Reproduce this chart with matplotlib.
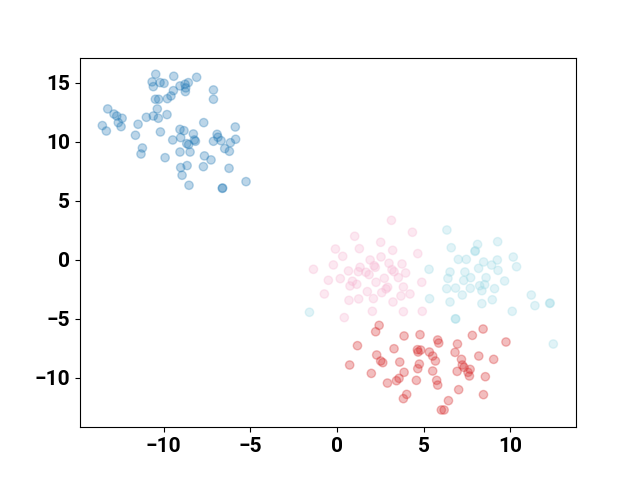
import matplotlib
matplotlib.use("Agg")
import matplotlib.pyplot as plt
import numpy as np

plt.rcParams['font.family'] = ['Roboto', 'DejaVu Sans']

# cluster 0 (blue)
x0 = [-10.46, -9.42, -8.10, -10.67, -10.21, -9.98, -10.6, -9.06, -8.77, -8.58,
      -8.73, -8.75, -9.44, -7.13, -7.13, -9.58, -9.79, -10.48, -10.29, -13.23,
      -12.87, -12.71, -12.4, -12.62, -12.46, -13.54, -13.31, -11.48, -11.0, -10.6,
      -10.37, -10.31, -9.81, -11.63, -10.19, -9.06, -8.83, -8.29, -7.69, -9.48,
      -9.02, -8.67, -8.56, -8.23, -8.17, -6.92, -6.87, -7.13, -6.69, -5.87,
      -5.85, -6.15, -6.48, -6.21, -11.23, -11.31, -9.92, -9.06, -8.48, -7.65,
      -7.27, -9.02, -8.65, -7.71, -8.94, -6.23, -8.54, -6.62, -6.6, -5.25]
y0 = [15.74, 15.57, 15.48, 15.09, 15.03, 14.97, 14.69, 14.75, 14.89, 15.03,
      14.58, 14.27, 14.35, 14.41, 13.62, 13.9, 13.67, 13.62, 13.62, 12.8,
      12.37, 12.2, 12.01, 11.64, 11.3, 11.39, 10.93, 11.5, 12.09, 12.2,
      12.8, 12.01, 12.32, 10.57, 10.85, 11.07, 10.96, 10.68, 11.64, 10.17,
      10.37, 9.86, 9.78, 10.17, 10.06, 10.65, 10.4, 10.06, 10.11, 11.27,
      10.23, 9.94, 9.44, 9.21, 9.49, 8.98, 8.67, 9.15, 9.15, 8.82,
      8.48, 7.83, 8.0, 7.91, 7.18, 7.77, 6.33, 6.07, 6.1, 6.64]

# cluster 1 (red)
x1 = [2.43, 2.23, 1.18, 0.73, 2.29, 2.52, 2.64, 1.98, 3.29, 3.87,
      4.79, 3.62, 3.87, 3.58, 3.43, 2.91, 4.02, 3.83, 4.64, 4.68,
      4.83, 5.33, 5.52, 5.68, 4.75, 4.66, 4.58, 5.52, 5.75, 5.81,
      5.81, 5.87, 6.95, 6.81, 7.18, 7.23, 7.33, 6.93, 7.56, 7.64,
      7.68, 7.02, 6.43, 6.02, 6.18, 7.81, 8.43, 8.18, 8.56, 9.04,
      8.45, 9.75]
y1 = [-5.54, -6.08, -7.26, -8.9, -8.05, -8.56, -8.7, -9.61, -7.52, -6.44,
      -6.33, -8.65, -9.52, -10.03, -10.23, -10.43, -11.39, -11.75, -7.6, -7.8,
      -7.63, -7.8, -8.14, -8.56, -8.82, -9.21, -10.2, -9.41, -10.2, -10.6,
      -6.78, -7.04, -7.12, -7.83, -8.42, -8.9, -9.1, -9.44, -9.52, -9.83,
      -9.27, -10.99, -11.92, -12.71, -12.71, -6.39, -5.85, -8.14, -9.89, -8.42,
      -11.41, -6.95]

# cluster 2 (pink)
x2 = [3.14, 1.02, 4.35, -0.09, 1.29, 2.52, 3.21, 4.66, 0.33, 2.54,
      1.91, -1.36, -0.21, 2.14, 1.33, 2.21, 3.0, 3.75, 0.66, 1.23,
      1.67, 1.85, 3.17, 3.29, 3.96, -0.5, 0.19, 0.89, 0.75, 1.14,
      2.25, 2.73, 3.54, 4.89, -0.73, 1.75, 2.58, 2.83, 2.92, 3.83,
      4.21, 3.69, 0.69, 1.25, 2.1, 3.23, 2.04, 3.83, 4.92, 0.42]
y2 = [3.36, 2.01, 2.35, 0.93, 0.96, 1.5, 0.82, 0.54, 0.31, 0.26,
      0.0, -0.79, -0.42, -0.48, -0.62, -0.62, -0.28, -0.34, -0.93, -0.99,
      -1.04, -1.24, -0.82, -0.99, -1.1, -1.72, -1.58, -1.8, -2.2, -2.06,
      -1.89, -1.55, -1.49, -1.89, -2.88, -2.68, -2.77, -2.45, -2.31, -2.29,
      -2.88, -3.05, -3.42, -3.3, -3.27, -3.56, -4.35, -4.38, -4.35, -4.88]

# cluster 3 (cyan)
x3 = [6.34, 6.59, 8.11, 7.96, 7.98, 9.27, 7.0, 7.46, 8.46, 9.25,
      10.17, 10.36, 8.92, 5.31, 6.52, 7.38, 8.17, 9.29, 6.4, 7.31,
      7.71, 8.6, 9.67, 6.33, 6.84, 7.69, 8.23, 8.52, 8.36, 9.09,
      7.23, 5.34, 6.52, 8.36, 8.96, 10.11, 11.21, 11.42, 12.27, 12.3,
      6.83, 6.85, 12.48, -1.59]
y3 = [2.54, 1.04, 1.32, 0.73, 0.78, 1.55, 0.05, 0.05, -0.17, 0.0,
      0.25, -0.57, -0.43, -0.79, -1.02, -1.02, -0.71, -0.88, -1.56, -1.73,
      -1.5, -1.5, -1.78, -2.43, -2.38, -2.4, -2.18, -2.09, -2.6, -2.43,
      -2.97, -3.28, -3.56, -3.7, -3.37, -4.35, -2.97, -3.87, -3.68, -3.65,
      -4.98, -5.0, -7.12, -4.43]

xs = np.concatenate([x0, x1, x2, x3])
ys = np.concatenate([y0, y1, y2, y3])
labels = np.concatenate([np.full(len(x0), 0), np.full(len(x1), 1),
                         np.full(len(x2), 2), np.full(len(x3), 3)])

fig = plt.figure(figsize=(6.4, 4.8), dpi=100)
ax = fig.add_subplot(111)
ax.scatter(xs, ys, c=labels, cmap='tab20', alpha=0.3)
ax.set_xlim(-14.83, 13.79)
ax.set_ylim(-14.17, 17.15)
ax.set_xticks([-10, -5, 0, 5, 10])
ax.set_yticks([-10, -5, 0, 5, 10, 15])
for lab in ax.get_xticklabels() + ax.get_yticklabels():
    lab.set_fontsize(15)
    lab.set_fontweight('bold')

fig.savefig('out.png')
